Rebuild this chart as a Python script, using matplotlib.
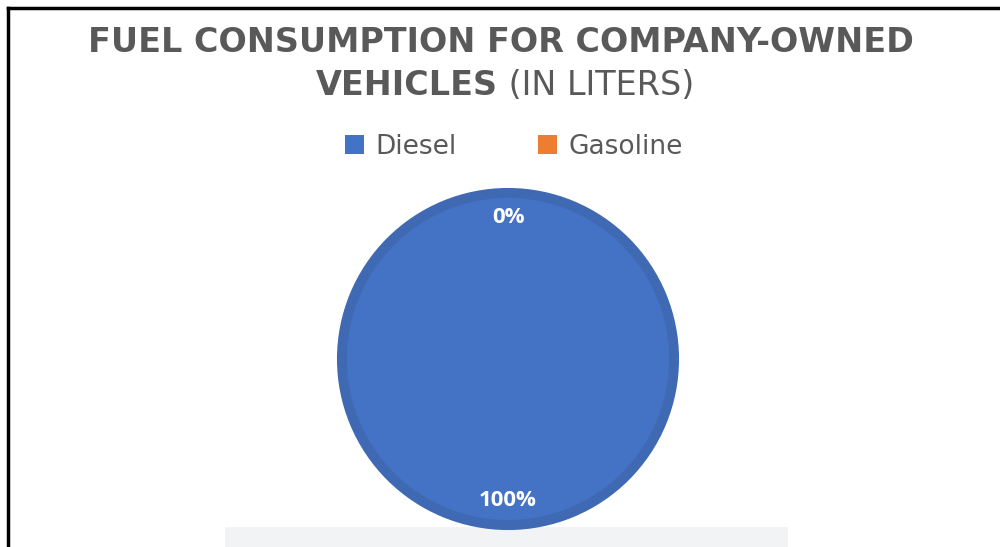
import matplotlib
matplotlib.use("Agg")
import matplotlib.pyplot as plt
from matplotlib.patches import Rectangle
from matplotlib.lines import Line2D

categories = ["Diesel", "Gasoline"]
values = [100, 0]
colors = ["#4472C4", "#ED7D31"]
title_line1 = "FUEL CONSUMPTION FOR COMPANY-OWNED"
title_bold2 = "VEHICLES"
title_reg2 = " (IN LITERS)"

W, H = 1000, 547
fig = plt.figure(figsize=(W / 100, H / 100), dpi=100)
fig.patch.set_facecolor("white")

# light grey strip at bottom (behind pie)
fig.add_artist(Rectangle((225 / W, 0), 563 / W, 20 / H, transform=fig.transFigure,
                         facecolor="#F2F3F5", edgecolor="none", zorder=-1))

# frame lines (left and top)
fig.add_artist(Line2D([8 / W, 8 / W], [0, 1 - 8 / H], transform=fig.transFigure,
                      color="black", lw=2.5, solid_capstyle="projecting"))
fig.add_artist(Line2D([8 / W, 1], [1 - 8 / H, 1 - 8 / H], transform=fig.transFigure,
                      color="black", lw=2.5, solid_capstyle="projecting"))

# pie axes
cx, cy, r = 508, 359, 171
ax = fig.add_axes([(cx - r) / W, (H - cy - r) / H, 2 * r / W, 2 * r / H])
wedges, texts, autotexts = ax.pie(
    values, colors=colors, startangle=90, counterclock=False,
    radius=0.971, autopct="%.0f%%", pctdistance=0.85,
    wedgeprops=dict(linewidth=0),
    textprops=dict(color="white", fontsize=16, fontweight="bold", family="Open Sans"))
ax.set_xlim(-1, 1)
ax.set_ylim(-1, 1)
ax.set_aspect("equal")
ax.axis("off")

# legend (created before ring styling so handles stay plain)
leg = fig.legend(wedges, categories, loc="center", bbox_to_anchor=(0.514, 1 - 147 / H),
                 ncol=2, frameon=False, fontsize=19, handlelength=0.72, handleheight=0.72,
                 handletextpad=0.42, columnspacing=3.1)
for t in leg.get_texts():
    t.set_color("#595959")

# darker ring on the diesel wedge
wedges[0].set_edgecolor("#3F69B3")
wedges[0].set_linewidth(7.2)
wedges[1].set_visible(False)
for t in autotexts:
    t.set_clip_on(False)

# title
fs = 24
fig.text(0.501, 1 - 52 / H, title_line1, ha="center", va="baseline",
         fontsize=fs, fontweight="bold", color="#595959")
fig.canvas.draw()
r_ = fig.canvas.get_renderer()
tb = fig.text(0, 1 - 95 / H, title_bold2, ha="left", va="baseline",
              fontsize=fs, fontweight="bold", color="#595959")
tr = fig.text(0, 1 - 95 / H, title_reg2, ha="left", va="baseline",
              fontsize=fs, fontweight="normal", color="#595959")
wb = tb.get_window_extent(r_).width
wr = tr.get_window_extent(r_).width
x0 = 505 - (wb + wr) / 2
tb.set_x(x0 / W)
tr.set_x((x0 + wb) / W)

fig.savefig("out.png", dpi=100)
